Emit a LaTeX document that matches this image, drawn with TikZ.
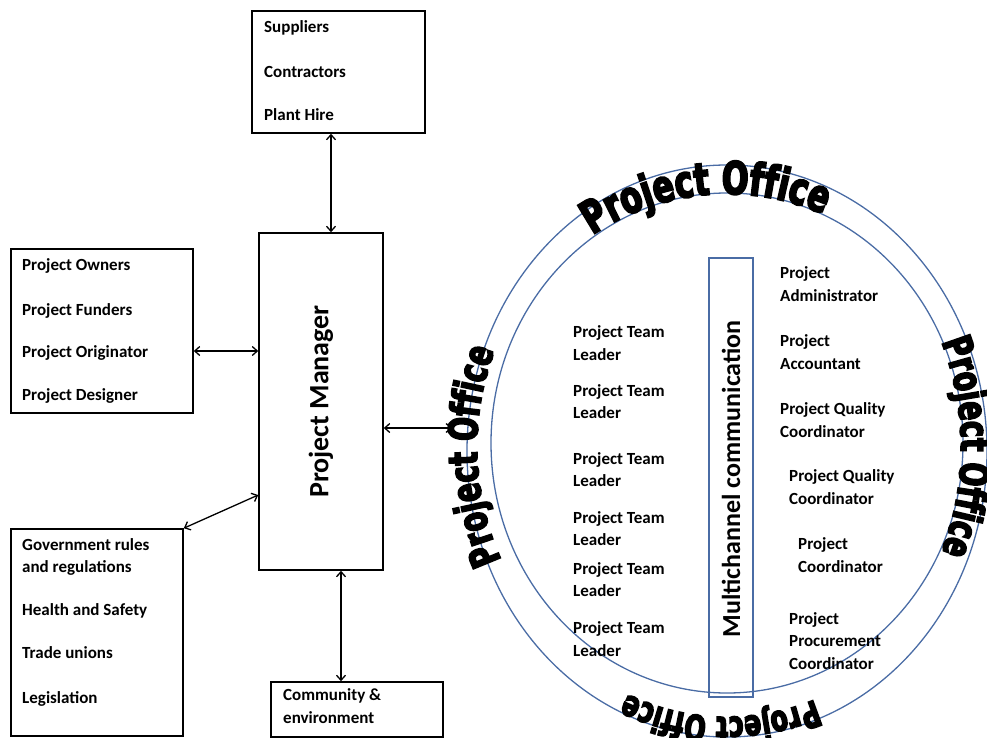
\documentclass[tikz,border=0pt]{standalone}
\usepackage{fontspec}
\setmainfont{Carlito}
\newfontfamily\ringfont{DejaVu Sans Bold}[FakeStretch=0.7,FakeBold=4]
\usetikzlibrary{arrows.meta,decorations.text,calc}
\definecolor{ringblue}{RGB}{74,108,165}
\newcommand\ringtop{\ringfont\fontsize{45}{45}\selectfont}
\newcommand\ringside{\ringfont\fontsize{40}{40}\selectfont}
\newcommand\ringbottom{\ringfont\fontsize{36}{36}\selectfont}

\begin{document}
\begin{tikzpicture}[x=1pt,y=-1pt,
  box/.style={draw=black, line width=1.6pt, inner sep=0pt},
  lbl/.style={anchor=mid west, inner sep=0pt, font=\bfseries\fontsize{17}{20}\selectfont},
  dbl/.style={{Straight Barb[length=5pt,width=9pt]}-{Straight Barb[length=5pt,width=9pt]}, line width=1.3pt},
  ring/.style={draw=ringblue, line width=1.3pt},
  ringtext/.style={decorate, decoration={text along path, text align=center, text={#1}}}
]
\useasboundingbox (0,0) rectangle (987,738);

% boxes
\node[box, minimum width=173pt, minimum height=122pt] (sup) at (338.5,72) {};
\node[box, minimum width=124pt, minimum height=337pt] (pm) at (321,401.5) {};
\node[box, minimum width=182pt, minimum height=164pt] (own) at (102,331) {};
\node[box, minimum width=172pt, minimum height=207pt] (gov) at (97,632.5) {};
\node[box, minimum width=172pt, minimum height=55pt] (comm) at (357,709.5) {};

% project manager
\node[rotate=90, font=\bfseries\fontsize{28}{30}\selectfont] (pmtext) at (pm) {Project Manager};

% suppliers box
\node[lbl] (s1) at (264,30) {Suppliers};
\node[lbl] (s2) at (264,75) {Contractors};
\node[lbl] (s3) at (264,118) {Plant Hire};

% owners box
\node[lbl] (o1) at (22,268) {Project Owners};
\node[lbl] (o2) at (22,313) {Project Funders};
\node[lbl] (o3) at (22,355) {Project Originator};
\node[lbl] (o4) at (22,398) {Project Designer};

% government box
\node[lbl] (g1) at (22,548) {Government rules};
\node[lbl] (g1b) at (22,570) {and regulations};
\node[lbl] (g2) at (22,613) {Health and Safety};
\node[lbl] (g3) at (22,656) {Trade unions};
\node[lbl] (g4) at (22,701) {Legislation};

% community box
\node[lbl] (c1) at (283,698) {Community \&};
\node[lbl] (c1b) at (283,721) {environment};

% project office ring
\coordinate (ctr) at (727,447);
\draw[ring] (727,451) ellipse [x radius=260, y radius=286];
\draw[ring] (727,443) ellipse [x radius=236, y radius=250];
\path[ringtext={|\ringtop|Project Office}] ($(ctr)+(225:246 and 253)$) arc[start angle=225, end angle=305, x radius=246, y radius=253];
\path[ringtext={|\ringside|Project Office}] ($(ctr)+(140:250 and 262)$) arc[start angle=140, end angle=216, x radius=250, y radius=262];
\path[ringtext={|\ringside|Project Office}] ($(ctr)+(-38:234 and 262)$) arc[start angle=-38, end angle=38, x radius=234, y radius=262];
\path[ringtext={|\ringbottom|Project Office}] ($(ctr)+(55:248 and 270)$) arc[start angle=55, end angle=128, x radius=248, y radius=270];

% multichannel bar
\node[draw=ringblue, line width=1.3pt, minimum width=44pt, minimum height=439pt, inner sep=0pt] (mc) at (731,477.5) {};
\node[rotate=90, font=\bfseries\fontsize{26}{28}\selectfont] (mctext) at (731,479) {Multichannel communication};

% team leaders
\foreach \i/\ya/\yb in {1/335/358, 2/394/416, 3/462/484, 4/521/543, 5/572/594, 6/631/654} {
  \node[lbl] (tl\i a) at (573,\ya) {Project Team};
  \node[lbl] (tl\i b) at (573,\yb) {Leader};
}

% office roles
\node[lbl] (r1) at (780,276) {Project};
\node[lbl] (r1b) at (780,299) {Administrator};
\node[lbl] (r2) at (780,344) {Project};
\node[lbl] (r2b) at (780,367) {Accountant};
\node[lbl] (r3) at (780,412) {Project Quality};
\node[lbl] (r3b) at (780,435) {Coordinator};
\node[lbl] (r4) at (789,479) {Project Quality};
\node[lbl] (r4b) at (789,502) {Coordinator};
\node[lbl] (r5) at (798,547) {Project};
\node[lbl] (r5b) at (798,570) {Coordinator};
\node[lbl] (r6) at (789,622) {Project};
\node[lbl] (r6b) at (789,644) {Procurement};
\node[lbl] (r6c) at (789,667) {Coordinator};

% connectors
\coordinate (officein) at (452,428);
\draw[dbl] (sup.south -| 331,0) -- (pm.north -| 331,0);
\draw[dbl] (own.east |- 0,351) -- (pm.west |- 0,351);
\draw[dbl] (gov.north east) -- (pm.west |- 0,495);
\draw[dbl] (pm.east |- 0,428) -- (officein);
\draw[dbl] (pm.south -| 341,0) -- (comm.north -| 341,0);
\end{tikzpicture}
\end{document}
